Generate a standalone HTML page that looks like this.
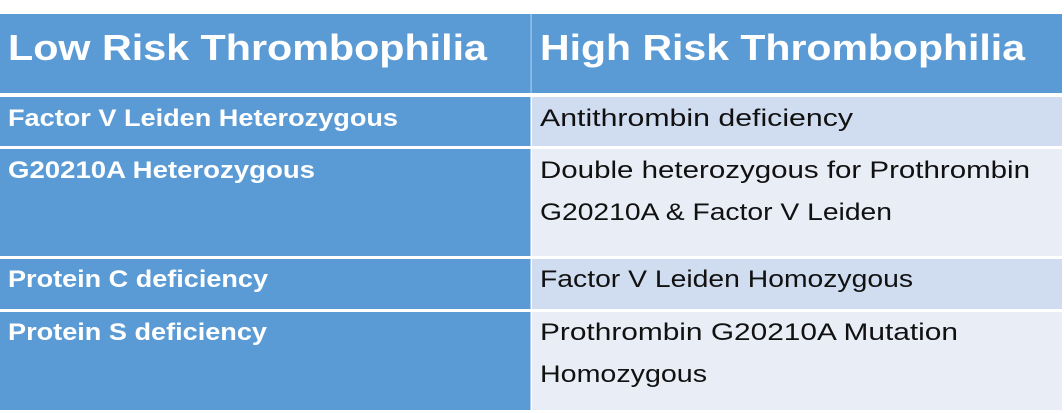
<!DOCTYPE html><html><head><style>body{margin:0;background:#fff}svg{display:block}</style></head><body>
<svg width="1064" height="413" xmlns="http://www.w3.org/2000/svg" font-family="Liberation Sans, sans-serif">
<rect x="0" y="0" width="1064" height="413" fill="#fff"/>
<rect x="0" y="14" width="1062" height="79" fill="#5b9bd5"/>
<rect x="530.5" y="14" width="1.2" height="79" fill="#a9c8ea"/>
<rect x="0" y="97" width="530.5" height="49" fill="#5b9bd5"/>
<rect x="532" y="97" width="530" height="49" fill="#d0dcef"/>
<rect x="0" y="149" width="530.5" height="107" fill="#5b9bd5"/>
<rect x="532" y="149" width="530" height="107" fill="#e9edf6"/>
<rect x="0" y="259" width="530.5" height="50" fill="#5b9bd5"/>
<rect x="532" y="259" width="530" height="50" fill="#d0dcef"/>
<rect x="0" y="312" width="530.5" height="98" fill="#5b9bd5"/>
<rect x="532" y="312" width="530" height="98" fill="#e9edf6"/>
<g fill="#fff" font-weight="bold">
<text x="8" y="60" font-size="36" textLength="479" lengthAdjust="spacingAndGlyphs">Low Risk Thrombophilia</text>
<text x="540" y="60" font-size="36" textLength="485" lengthAdjust="spacingAndGlyphs">High Risk Thrombophilia</text>
<text x="8" y="126" font-size="24" textLength="390" lengthAdjust="spacingAndGlyphs">Factor V Leiden Heterozygous</text>
<text x="8" y="178" font-size="24" textLength="307" lengthAdjust="spacingAndGlyphs">G20210A Heterozygous</text>
<text x="8" y="287" font-size="24" textLength="260" lengthAdjust="spacingAndGlyphs">Protein C deficiency</text>
<text x="8" y="340" font-size="24" textLength="259" lengthAdjust="spacingAndGlyphs">Protein S deficiency</text>
</g>
<g fill="#111" font-size="24">
<text x="540" y="126" textLength="313" lengthAdjust="spacingAndGlyphs">Antithrombin deficiency</text>
<text x="540" y="178" textLength="490" lengthAdjust="spacingAndGlyphs">Double heterozygous for Prothrombin</text>
<text x="540" y="220" textLength="352" lengthAdjust="spacingAndGlyphs">G20210A &amp; Factor V Leiden</text>
<text x="540" y="287" textLength="373" lengthAdjust="spacingAndGlyphs">Factor V Leiden Homozygous</text>
<text x="540" y="340" textLength="418" lengthAdjust="spacingAndGlyphs">Prothrombin G20210A Mutation</text>
<text x="540" y="382" textLength="167" lengthAdjust="spacingAndGlyphs">Homozygous</text>
</g>
</svg>
</body></html>
